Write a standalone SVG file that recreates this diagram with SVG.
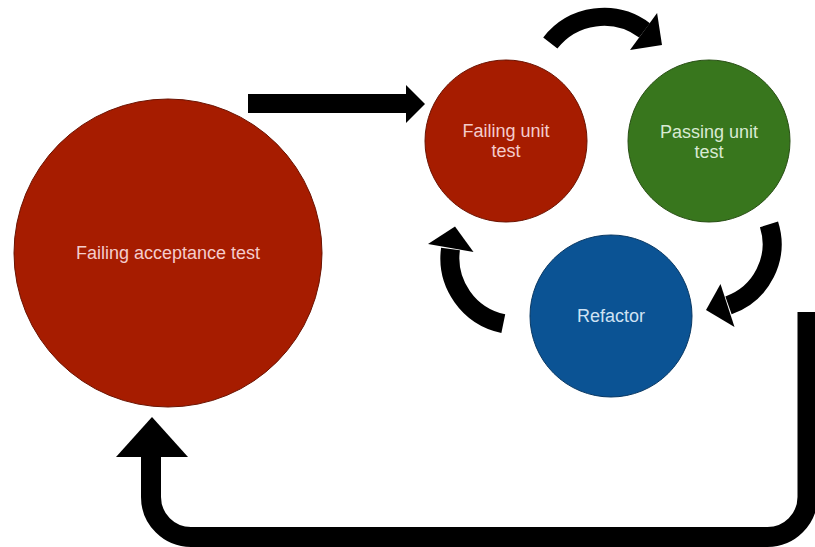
<svg xmlns="http://www.w3.org/2000/svg" width="815" height="547" viewBox="0 0 815 547">
<style>
.n{stroke-width:1}
.red{fill:#a61c00;stroke:#6b1200}
.green{fill:#38761d;stroke:#274e13}
.blue{fill:#0b5394;stroke:#073763}
text{font-family:"Liberation Sans",Arial,sans-serif;font-size:18px;text-anchor:middle}
.tr{fill:#f4cccc}
.tg{fill:#d9ead3}
.tb{fill:#cfe2f3}
.body{fill:none;stroke:#000}
.head{fill:#000}
</style>
<rect width="815" height="547" fill="#fff"/>
<g id="connectors">
  <g id="arrow-acceptance-to-failing">
    <rect x="248" y="94" width="160" height="19" fill="#000"/>
    <polygon class="head" points="406,85 425,104 406,123"/>
  </g>
  <g id="arrow-failing-to-passing">
    <path class="body" stroke-width="18" d="M550.3,43 A68,68 0 0 1 644.5,30.4"/>
    <polygon class="head" points="657.1,13 662,45 630,50"/>
  </g>
  <g id="arrow-passing-to-refactor">
    <path class="body" stroke-width="19" d="M769,224.3 A65,65 0 0 1 728.5,305.4"/>
    <polygon class="head" points="720.5,284 706,310 734.5,327"/>
  </g>
  <g id="arrow-refactor-to-failing">
    <path class="body" stroke-width="19" d="M503.3,323.6 A67,67 0 0 1 450.5,249"/>
    <polygon class="head" points="428,244 455,226.5 473.5,252"/>
  </g>
  <g id="arrow-loop-to-acceptance">
    <path class="body" stroke-width="20" d="M807.5,312 V497 A40,40 0 0 1 767.5,537 H191 A40,40 0 0 1 151,497 V456"/>
    <polygon class="head" points="116,457 152,417 188,457"/>
  </g>
</g>
<g id="node-acceptance">
  <circle class="n red" cx="168" cy="253" r="154"/>
  <text class="tr" x="168" y="259">Failing acceptance test</text>
</g>
<g id="node-failing-unit">
  <circle class="n red" cx="506" cy="141" r="81"/>
  <text class="tr" x="506" y="137">Failing unit</text>
  <text class="tr" x="506" y="157">test</text>
</g>
<g id="node-passing-unit">
  <circle class="n green" cx="709" cy="141" r="81"/>
  <text class="tg" x="709" y="138">Passing unit</text>
  <text class="tg" x="709" y="158">test</text>
</g>
<g id="node-refactor">
  <circle class="n blue" cx="611" cy="316" r="81"/>
  <text class="tb" x="611" y="322">Refactor</text>
</g>
</svg>
